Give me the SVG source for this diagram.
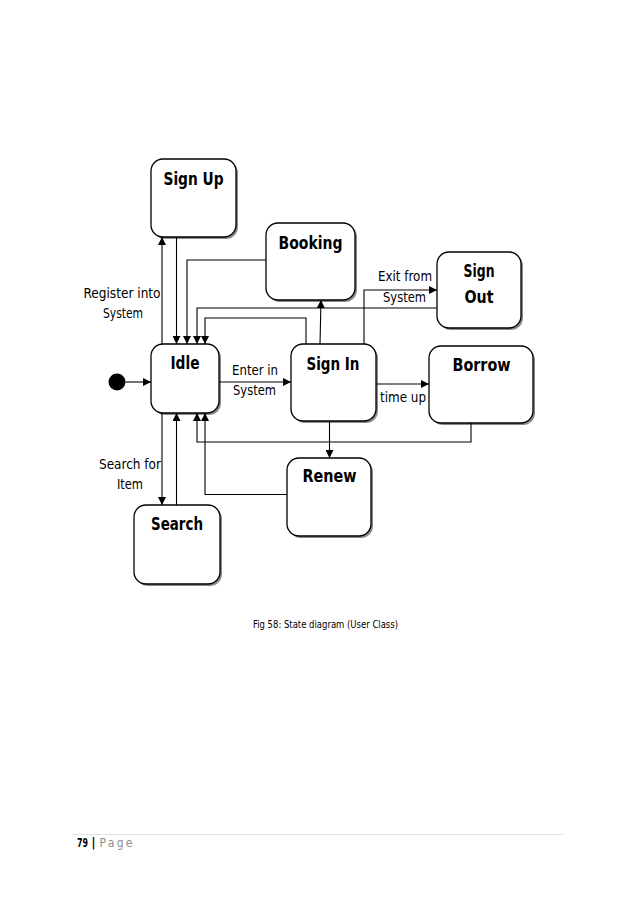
<svg xmlns="http://www.w3.org/2000/svg" width="638" height="903" viewBox="0 0 638 903">
<defs>
<marker id="arr" viewBox="0 0 10 10" refX="10" refY="5" markerWidth="8" markerHeight="8" markerUnits="userSpaceOnUse" orient="auto">
<path d="M0,0 L10,5 L0,10 z" fill="#000"/>
</marker>
</defs>
<style>
.box{fill:#fff;stroke:#000;stroke-width:1.3}
.sh{fill:#8a8a8a}
.t{font-family:"DejaVu Sans Condensed","DejaVu Sans",sans-serif;font-weight:bold;font-size:17px;text-anchor:middle;fill:#000;font-stretch:condensed}
.l{font-family:"DejaVu Sans Condensed","DejaVu Sans",sans-serif;font-size:14px;fill:#000;text-anchor:middle;font-stretch:condensed}
.c line,.c polyline{fill:none;stroke:#000;stroke-width:1.1}
.a{marker-end:url(#arr)}
</style>
<rect width="638" height="903" fill="#fff"/>
<g id="start"><circle cx="117" cy="382" r="8.5" fill="#000"/></g>
<g id="signup"><rect class="sh" x="153" y="161" width="85" height="78" rx="12"/><rect class="box" x="151" y="159" width="85" height="78" rx="12"/><text class="t" x="193.5" y="185" textLength="60" lengthAdjust="spacingAndGlyphs">Sign Up</text></g>
<g id="booking"><rect class="sh" x="268" y="225" width="89" height="77" rx="12"/><rect class="box" x="266" y="223" width="89" height="77" rx="12"/><text class="t" x="310.5" y="249" textLength="64" lengthAdjust="spacingAndGlyphs">Booking</text></g>
<g id="signout"><rect class="sh" x="439" y="254" width="84" height="76" rx="12"/><rect class="box" x="437" y="252" width="84" height="76" rx="12"/><text class="t" x="479" y="277" textLength="31" lengthAdjust="spacingAndGlyphs">Sign</text><text class="t" x="479" y="303" textLength="29" lengthAdjust="spacingAndGlyphs">Out</text></g>
<g id="idle"><rect class="sh" x="153" y="346" width="68" height="69" rx="12"/><rect class="box" x="151" y="344" width="68" height="69" rx="12"/><text class="t" x="185" y="369" textLength="29" lengthAdjust="spacingAndGlyphs">Idle</text></g>
<g id="signin"><rect class="sh" x="293" y="346" width="85" height="77" rx="12"/><rect class="box" x="291" y="344" width="85" height="77" rx="12"/><text class="t" x="333" y="370" textLength="53" lengthAdjust="spacingAndGlyphs">Sign In</text></g>
<g id="borrow"><rect class="sh" x="431" y="348" width="104" height="77" rx="12"/><rect class="box" x="429" y="346" width="104" height="77" rx="12"/><text class="t" x="481.5" y="371" textLength="58" lengthAdjust="spacingAndGlyphs">Borrow</text></g>
<g id="renew"><rect class="sh" x="289" y="460" width="84" height="78" rx="12"/><rect class="box" x="287" y="458" width="84" height="78" rx="12"/><text class="t" x="329.5" y="482" textLength="54" lengthAdjust="spacingAndGlyphs">Renew</text></g>
<g id="search"><rect class="sh" x="136" y="507" width="86" height="79" rx="12"/><rect class="box" x="134" y="505" width="86" height="79" rx="12"/><text class="t" x="177" y="530" textLength="52" lengthAdjust="spacingAndGlyphs">Search</text></g>
<g id="connectors" class="c">
<line class="a" x1="125.5" y1="382" x2="151" y2="382"/>
<line class="a" x1="162" y1="344" x2="162" y2="237"/>
<line class="a" x1="176.5" y1="237" x2="176.5" y2="344"/>
<polyline class="a" points="266,260 187,260 187,344"/>
<polyline class="a" points="437,308 197,308 197,344"/>
<polyline class="a" points="306,344 306,318 205,318 205,344"/>
<line class="a" x1="320" y1="344" x2="321" y2="300"/>
<polyline class="a" points="364,344 364,290 437,290"/>
<line class="a" x1="219" y1="382" x2="291" y2="382"/>
<line class="a" x1="376" y1="384" x2="429" y2="384"/>
<polyline class="a" points="471,423 471,442 197,442 197,413"/>
<line class="a" x1="329.5" y1="421" x2="329.5" y2="458"/>
<polyline class="a" points="287,494.5 205,494.5 205,413"/>
<line class="a" x1="162" y1="413" x2="162" y2="505"/>
<line class="a" x1="176.5" y1="505" x2="176.5" y2="413"/>
</g>
<g id="labels">
<text class="l" x="122" y="298" textLength="77" lengthAdjust="spacingAndGlyphs">Register into</text>
<text class="l" x="123" y="318" textLength="40" lengthAdjust="spacingAndGlyphs">System</text>
<text class="l" x="255" y="375" textLength="46" lengthAdjust="spacingAndGlyphs">Enter in</text>
<text class="l" x="254.5" y="395" textLength="43" lengthAdjust="spacingAndGlyphs">System</text>
<text class="l" x="405" y="281" textLength="54" lengthAdjust="spacingAndGlyphs">Exit from</text>
<text class="l" x="404.5" y="302" textLength="43" lengthAdjust="spacingAndGlyphs">System</text>
<text class="l" x="403" y="402" textLength="46" lengthAdjust="spacingAndGlyphs">time up</text>
<text class="l" x="130" y="469" textLength="62" lengthAdjust="spacingAndGlyphs">Search for</text>
<text class="l" x="130" y="489" textLength="26" lengthAdjust="spacingAndGlyphs">Item</text>
</g>
<g id="caption">
<text x="325.5" y="628" font-family="DejaVu Sans Condensed, DejaVu Sans, sans-serif" font-size="10.5" text-anchor="middle" textLength="145" lengthAdjust="spacingAndGlyphs">Fig 58: State diagram (User Class)</text>
</g>
<g id="footer">
<line x1="72" y1="834.5" x2="563" y2="834.5" stroke="#e2e2e2" stroke-width="1"/>
<text x="77" y="847" font-family="DejaVu Sans Condensed, DejaVu Sans, sans-serif" font-size="12" font-weight="bold" fill="#000" textLength="11" lengthAdjust="spacingAndGlyphs">79</text>
<text x="91.5" y="847" font-family="DejaVu Sans Condensed, DejaVu Sans, sans-serif" font-size="12" font-weight="bold" fill="#000">|</text>
<text x="99.5" y="847" font-family="DejaVu Sans Condensed, DejaVu Sans, sans-serif" font-size="12" fill="#8c8c8c" textLength="33" lengthAdjust="spacing">Page</text>
</g>
</svg>
